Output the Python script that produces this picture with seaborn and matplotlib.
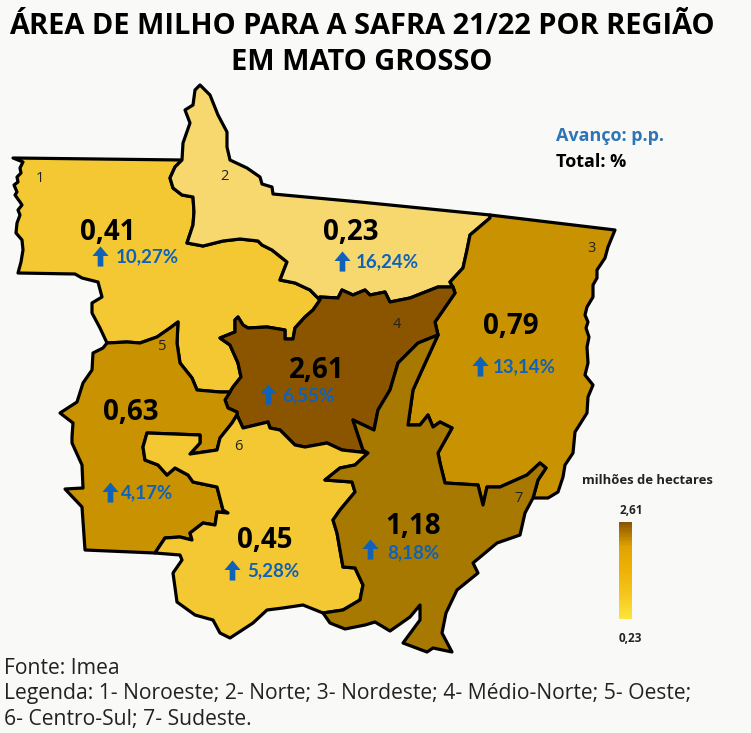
import numpy as np
import pandas as pd
import seaborn as sns
import matplotlib.pyplot as plt
from matplotlib.path import Path

# ---- data ----
region_names = ['1', '2', '3', '4', '5', '6', '7']
area = [0.41, 0.23, 0.79, 2.61, 0.63, 0.45, 1.18]
area_labels = ['0,41', '0,23', '0,79', '2,61', '0,63', '0,45', '1,18']
pct_labels = ['10,27%', '16,24%', '13,14%', '6,55%', '4,17%', '5,28%', '8,18%']
region_colors = ['#f3c832', '#f6d86f', '#c99200', '#8b5500', '#c99200', '#f3c832', '#a87900']

# borders of the regions, in picture pixels; shared stretches are kept once
b12 = [(182,160),(175,167),(170,178),(173,188),(182,195),(193,197),(194,212),(193,225),(187,243),(203,246),(223,241),(240,239),(258,241),(262,245),(272,250),(287,262),(280,280),(295,283),(310,290),(320,300)]
b14 = [(320,300),(313,310),(305,317),(295,328),(293,339),(285,339),(285,330),(267,327),(248,328),(243,325),(238,317),(235,320),(235,332),(220,338),(230,345),(238,363),(241,377),(233,387),(230,392)]
b15 = [(107,343),(127,342),(140,343),(157,337),(170,328),(178,322),(177,343),(180,363),(192,378),(197,390),(220,392),(230,392)]
b24 = [(320,300),(320,297),(338,298),(342,290),(353,295),(365,290),(370,295),(385,292),(390,302),(410,298),(438,287),(453,287)]
b23 = [(490,215),(490,218),(470,235),(467,250),(463,268),(450,282),(453,287)]
b34 = [(453,287),(455,293),(435,322),(438,335)]
b47 = [(438,335),(418,343),(398,363),(390,390),(378,410),(374,430),(353,420),(363,450),(368,453)]
b46 = [(237,415),(243,428),(268,422),(270,428),(280,430),(295,445),(305,447),(327,443),(342,450),(360,452),(368,453)]
b45 = [(230,392),(225,400),(228,408),(237,412),(237,415)]
b56 = [(237,415),(232,423),(220,438),(217,450),(190,454),(200,443),(200,435),(147,433),(143,447),(145,460),(158,465),(167,475),(175,468),(188,475),(193,482),(217,487),(223,510),(228,513),(217,512),(215,525),(203,523),(190,533),(192,540),(180,537),(165,538),(155,553)]
b67 = [(368,453),(355,465),(340,468),(325,480),(352,482),(355,492),(340,510),(333,520),(337,533),(343,567),(355,568),(363,585),(360,600),(343,610),(323,613)]
b37 = [(438,335),(422,370),(413,390),(408,425),(420,425),(428,415),(433,427),(440,422),(452,428),(438,453),(440,463),(445,483),(478,485),(483,505),(487,487),(500,487),(527,475),(540,463),(546,468),(538,480),(533,498)]
o1 = [(182,160),(13,158),(23,162),(20,168),(21,173),(17,177),(18,182),(14,185),(17,192),(15,195),(20,202),(22,205),(18,210),(20,215),(17,223),(16,233),(22,240),(23,250),(21,262),(18,273),(75,274),(82,278),(98,282),(102,297),(92,303),(92,313),(100,328),(107,343)]
o2 = [(182,160),(183,143),(190,123),(185,110),(193,105),(195,90),(200,85),(210,95),(218,115),(227,132),(227,147),(230,160),(247,168),(260,177),(262,184),(272,187),(273,194),(360,202),(490,215)]
o3 = [(490,215),(615,230),(608,247),(605,258),(597,270),(597,278),(593,285),(593,297),(587,307),(585,315),(588,322),(586,328),(589,337),(587,347),(588,363),(585,375),(593,385),(588,397),(587,413),(575,432),(573,453),(565,465),(563,477),(558,492),(548,498),(533,498)]
o5 = [(107,343),(103,348),(93,353),(92,370),(83,383),(77,402),(60,413),(73,423),(72,437),(72,443),(82,465),(83,488),(65,489),(82,507),(85,550),(155,553)]
o6 = [(155,553),(180,555),(182,560),(173,573),(177,602),(195,615),(213,620),(220,633),(230,638),(253,623),(267,610),(283,608),(303,605),(323,613)]
o7 = [(323,613),(330,623),(345,629),(365,625),(375,622),(390,631),(410,617),(420,605),(420,620),(403,643),(427,652),(433,648),(452,652),(442,633),(446,613),(457,590),(478,573),(473,563),(497,543),(520,535),(525,513),(533,498)]

def rev(seg):
    return seg[::-1]

outlines = [
    o1 + b15 + rev(b14) + rev(b12),
    o2 + b23 + rev(b24) + rev(b12),
    o3 + rev(b37) + rev(b34) + rev(b23),
    b24 + b34 + b47 + rev(b46) + rev(b45) + rev(b14),
    b15 + b45 + b56 + rev(o5),
    rev(b56) + b46 + b67 + rev(o6),
    b47 + b67 + o7 + rev(b37),
]

# label places
area_x = [108, 351, 511, 317, 131, 265, 413]
area_y = [232, 232, 327, 370, 413, 541, 527]
pct_x = [147, 387, 524, 308, 147, 273, 413]
pct_y = [257, 262, 367, 396, 493, 571, 553]
arrow_x = [100, 342, 480, 268, 110, 232, 370]
arrow_y = [256, 261, 366, 394, 492, 570, 549]
num_x = [40, 224, 591, 397, 162, 238, 519]
num_y = [178, 177, 248, 325, 347, 446, 498]

bg = '#f9f9f7'
blue = '#0f62b8'

sns.set_theme(style='white')
plt.rcParams['font.family'] = ['Open Sans', 'DejaVu Sans']

fig = plt.figure(figsize=(7.51, 7.33), dpi=100, facecolor=bg)
ax = fig.add_axes([0, 0, 1, 1])
ax.set_facecolor(bg)
ax.set_xlim(0, 751)
ax.set_ylim(733, 0)
ax.axis('off')

for pts, col in zip(outlines, region_colors):
    xs, ys = zip(*pts)
    ax.fill(xs, ys, facecolor=col, edgecolor='black', lw=2.3, joinstyle='round', zorder=2)

# up arrows (marker paths are not flipped by the inverted y axis)
arrow_marker = Path([(-0.28, -1), (-0.28, 0.05), (-0.8, 0.05), (0, 1), (0.8, 0.05), (0.28, 0.05), (0.28, -1), (-0.28, -1)])
df = pd.DataFrame({'x': arrow_x, 'y': arrow_y, 'region': region_names})
sns.scatterplot(data=df, x='x', y='y', marker=arrow_marker, s=210, color=blue, linewidth=0, legend=False, ax=ax, zorder=4)
ax.set_xlabel('')
ax.set_ylabel('')

for i in range(len(region_names)):
    ax.text(area_x[i], area_y[i], area_labels[i], ha='center', va='center', fontsize=20, fontweight='bold', color='black', zorder=5)
    ax.text(pct_x[i], pct_y[i], pct_labels[i], ha='center', va='center', fontsize=13.5, fontweight='bold', color=blue, family='Lato', zorder=5)
    ax.text(num_x[i], num_y[i], region_names[i], ha='center', va='center', fontsize=10.5, color='#222222', zorder=5)

# title
ax.text(362, 27, 'ÁREA DE MILHO PARA A SAFRA 21/22 POR REGIÃO', ha='center', va='center', fontsize=20.9, fontweight='bold', color='black')
ax.text(362, 62, 'EM MATO GROSSO', ha='center', va='center', fontsize=20.9, fontweight='bold', color='black')

ax.text(556, 136, 'Avanço: p.p.', ha='left', va='center', fontsize=13, fontweight='bold', color='#2e75b6')
ax.text(556, 162, 'Total: %', ha='left', va='center', fontsize=13, fontweight='bold', color='black')

# colour legend
ramp = sns.blend_palette(['#fce43c', '#f4c61c', '#eeb106', '#e0a400', '#8b5500'], as_cmap=True)
cax = fig.add_axes([619 / 751, 1 - 619 / 733, 13 / 751, 97 / 733])
sns.heatmap(np.linspace(1, 0, 60).reshape(-1, 1), cmap=ramp, cbar=False, xticklabels=False, yticklabels=False, ax=cax)
ax.text(647, 481, 'milhões de hectares', ha='center', va='center', fontsize=9.4, fontweight='bold', color='#222222')
ax.text(631, 510, '2,61', ha='center', va='center', fontsize=8.5, fontweight='bold', color='#222222')
ax.text(630, 639, '0,23', ha='center', va='center', fontsize=8.5, fontweight='bold', color='#222222')

# footer
foot = ['Fonte: Imea', 'Legenda: 1- Noroeste; 2- Norte; 3- Nordeste; 4- Médio-Norte; 5- Oeste;', '6- Centro-Sul; 7- Sudeste.']
foot_y = [668, 693, 719]
for txt, y in zip(foot, foot_y):
    ax.text(4, y, txt, ha='left', va='center', fontsize=15.2, color='#222222')

fig.savefig('out.png', dpi=100, facecolor=bg)
